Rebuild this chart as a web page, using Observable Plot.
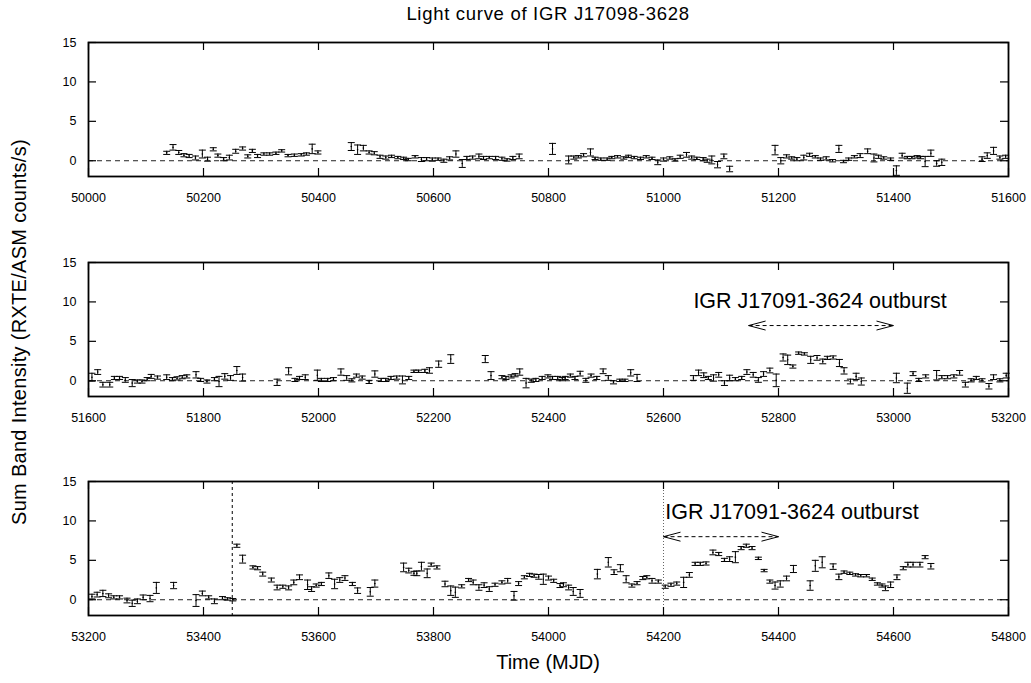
<!DOCTYPE html>
<html>
<head>
<meta charset="utf-8">
<script src="https://cdn.jsdelivr.net/npm/d3@7"></script>
<script src="https://cdn.jsdelivr.net/npm/@observablehq/plot@0.6"></script>
<style>
  html, body { margin: 0; padding: 0; background: #fff; }
  #chart { position: relative; width: 1031px; height: 683px; font-family: "Liberation Sans", Arial, sans-serif; color: #000; }
  .panel { position: absolute; left: 0; }
  .title { position: absolute; left: 88px; width: 920px; top: 3px; text-align: center; font-size: 18.5px; letter-spacing: 0.7px; }
  .xlabel { position: absolute; left: 88px; width: 920px; top: 651px; text-align: center; font-size: 20px; }
  .ylabel { position: absolute; left: 19px; top: 332px; transform: translate(-50%, -50%) rotate(-90deg); white-space: nowrap; font-size: 20px; letter-spacing: 0.3px; }
</style>
</head>
<body>
<div id="chart">
  <div class="title">Light curve of IGR J17098-3628</div>
  <div class="ylabel">Sum Band Intensity (RXTE/ASM counts/s)</div>
  <div class="xlabel">Time (MJD)</div>
</div>
<script>
// ---------- data ----------
// Panel 1: MJD 50000 - 51600
const p1Time = [50136,50147,50157,50166,50175,50186,50198,50207,50217,50225,50235,50245,50256,50268,50277,50285,50294,50305,50315,50326,50336,50347,50358,50370,50379,50389,50399,
  50457,50468,50478,50488,50497,50507,50517,50527,50538,50548,50556,50568,50579,50588,50598,50608,50618,50628,50639,50650,50658,50668,50679,50687,50697,50708,50719,50728,50738,50749,
  50807,50835,50844,50852,50861,50873,50881,50891,50902,50910,50920,50931,50939,50949,50960,50970,50980,50990,51000,51011,51020,51029,51040,51049,51058,51069,51076,51084,51094,51105,51115,
  51194,51204,51214,51223,51232,51244,51254,51264,51273,51283,51294,51305,51313,51322,51332,51342,51355,51366,51374,51383,51395,51405,51415,51424,51432,51441,51447,51455,51465,51475,51484,
  51554,51563,51574,51585,51595];
const p1Rate = [1.0,1.7,1.05,0.7,0.6,0.35,0.85,0.2,1.45,0.65,0.2,0.4,1.2,1.55,0.55,1.25,0.6,0.85,0.85,0.95,1.25,0.65,0.7,0.75,0.85,1.5,1.05,
  1.8,1.4,1.6,1.05,0.95,0.5,0.4,0.55,0.4,0.3,0.15,0.5,0.15,0.2,0.15,0.2,0.0,0.3,0.85,-0.35,0.35,0.4,0.55,0.35,0.4,0.35,0.25,0.1,0.35,0.55,
  1.5,0.1,0.4,0.5,0.7,1.05,0.3,0.2,0.2,0.4,0.5,0.35,0.55,0.4,0.3,0.5,0.3,-0.2,0.15,0.35,0.1,0.5,0.75,0.4,0.3,0.2,0.0,0.1,-0.5,0.55,-1.05,
  1.35,0.0,0.55,0.35,0.2,0.4,0.75,0.5,0.2,0.3,0.0,1.5,-0.1,0.2,0.5,0.65,1.2,0.35,0.5,0.35,0.2,-1.25,0.65,0.4,0.4,0.5,0.4,-0.1,0.95,-0.35,-0.2,
  0.2,0.65,1.25,0.4,0.5];
const p1Err = [0.2,0.35,0.25,0.2,0.2,0.25,0.5,0.25,0.2,0.2,0.2,0.3,0.25,0.2,0.2,0.2,0.2,0.15,0.15,0.15,0.15,0.15,0.15,0.15,0.15,0.6,0.2,
  0.5,0.6,0.35,0.2,0.2,0.2,0.2,0.15,0.15,0.15,0.15,0.15,0.25,0.2,0.2,0.15,0.2,0.2,0.4,0.5,0.2,0.2,0.3,0.2,0.15,0.2,0.2,0.15,0.2,0.3,
  0.7,0.5,0.2,0.15,0.2,0.45,0.15,0.15,0.15,0.15,0.15,0.15,0.15,0.15,0.15,0.15,0.15,0.3,0.2,0.15,0.15,0.2,0.3,0.2,0.15,0.2,0.2,0.5,0.4,0.3,0.35,
  0.6,0.4,0.2,0.15,0.2,0.3,0.2,0.15,0.15,0.2,0.15,0.45,0.15,0.15,0.15,0.25,0.3,0.5,0.2,0.15,0.15,0.6,0.3,0.15,0.15,0.15,0.15,0.65,0.4,0.35,0.4,
  0.3,0.35,0.45,0.2,0.2];

// Panel 2: MJD 51600 - 53200
const p2Time = [51606,51616,51625,51637,51645,51654,51664,51676,51685,51693,51702,51709,51720,51736,51746,51754,51763,51771,51787,51795,51806,51819,51827,51837,51847,51858,51868,
  51928,51948,51959,51967,51977,51998,52005,52016,52026,52039,52049,52058,52066,52076,52088,52098,52109,52117,52126,52136,52146,52157,52166,52174,52185,52193,52209,52230,
  52290,52300,52319,52326,52335,52342,52350,52361,52370,52378,52389,52399,52407,52416,52424,
  52429,52438,52446,52455,52465,52474,52484,52495,52504,52513,52524,52533,52543,52554,
  52652,52661,52670,52678,52687,52696,52706,52715,52725,52736,52745,52756,52765,52774,52785,52796,52808,52816,52825,52835,52845,52856,52867,52877,52885,52895,52906,52914,52925,52935,52944,
  53005,53024,53034,53044,53056,53075,53084,53094,53105,53115,53125,53135,53144,53154,53166,53174,53185,53196];
const p2Rate = [0.45,1.1,-0.5,-0.5,0.35,0.35,0.1,-0.3,-0.1,-0.1,0.2,0.55,0.4,0.45,0.2,0.3,0.45,0.55,0.75,0.1,-0.1,0.2,-0.1,0.55,0.35,1.3,0.4,
  -0.2,1.2,0.1,0.35,0.45,0.7,0.1,0.1,0.2,1.1,0.35,0.05,0.65,0.4,-0.15,0.85,0.1,0.1,0.35,0.4,0.1,0.35,1.2,1.2,1.25,1.3,2.1,2.75,
  2.75,0.65,0.45,0.35,0.55,0.7,1.1,-0.3,0.0,0.1,0.35,0.55,0.35,0.35,0.2,
  0.35,0.65,0.35,0.9,0.05,0.65,0.35,1.2,0.35,-0.2,0.05,0.05,1.0,0.35,
  0.35,1.0,0.7,0.35,0.35,0.75,-0.3,0.35,0.2,0.35,1.1,0.75,0.1,0.85,1.3,0.05,2.95,2.65,1.8,3.5,3.4,2.65,2.9,2.45,2.9,2.95,2.25,1.25,-0.1,0.55,-0.1,
  0.35,-0.95,0.9,0.1,0.55,0.7,0.45,0.45,0.55,1.0,-0.5,0.05,0.35,0.05,-0.7,0.45,0.05,0.65];
const p2Err = [0.5,0.3,0.3,0.3,0.2,0.2,0.3,0.45,0.2,0.2,0.2,0.25,0.2,0.3,0.2,0.2,0.2,0.2,0.4,0.2,0.2,0.2,0.65,0.35,0.3,0.5,0.45,
  0.4,0.45,0.2,0.2,0.3,0.65,0.2,0.2,0.2,0.4,0.3,0.2,0.2,0.2,0.2,0.4,0.2,0.2,0.2,0.2,0.5,0.2,0.15,0.15,0.2,0.35,0.4,0.55,
  0.45,0.5,0.2,0.2,0.2,0.2,0.4,0.6,0.2,0.2,0.2,0.2,0.2,0.2,0.2,
  0.2,0.2,0.2,0.3,0.25,0.2,0.2,0.3,0.3,0.2,0.15,0.15,0.4,0.45,
  0.3,0.35,0.3,0.2,0.4,0.3,0.3,0.35,0.2,0.2,0.3,0.3,0.3,0.3,0.3,0.8,0.45,0.6,0.2,0.15,0.15,0.45,0.3,0.3,0.2,0.2,0.45,0.4,0.3,0.4,0.45,
  0.6,0.65,0.25,0.2,0.2,0.6,0.2,0.2,0.2,0.3,0.3,0.2,0.2,0.2,0.35,0.3,0.2,0.3];

// Panel 3: MJD 53200 - 54800
const p3Time = [53206,53215,53225,53235,53244,53254,53267,53276,53285,53295,53307,53318,53348,53387,53398,53409,53419,53433,53442,53451,
  53458,53468,53486,53494,53503,53518,53528,53538,53548,53557,53567,53581,53588,53596,53605,53618,53628,53637,53646,53659,53668,53690,53698,
  53748,53757,53766,53771,53779,53789,53796,53806,53820,53830,53838,53849,53861,53869,53879,53888,53897,53907,53919,53929,53940,53948,53958,53967,53975,53983,53991,54000,54009,54020,
  54026,54035,54043,54055,
  54085,54104,54114,54125,54135,54145,54154,54164,54171,54180,54191,54203,54213,54223,54235,54245,54255,54264,54274,54286,54296,54306,54315,54325,54335,54344,54354,54365,54375,54385,54394,54403,54414,54426,
  54455,54464,54476,54495,54505,54514,54524,54534,54543,54553,54563,54572,54580,54586,54595,54606,54617,54625,54634,54646,54655,54665];
const p3Rate = [0.4,0.65,0.8,0.5,0.3,0.3,-0.1,-0.45,-0.2,0.3,0.15,1.5,1.8,-0.1,0.8,0.3,-0.2,0.2,0.1,0.0,
  6.85,5.15,4.1,4.0,3.25,2.5,1.55,1.65,1.5,2.2,2.85,1.9,1.35,1.8,2.0,3.05,2.0,2.5,2.75,2.0,1.15,1.0,2.05,
  4.1,3.7,3.35,3.35,4.2,3.35,4.45,4.1,2.0,1.15,0.95,1.7,2.5,2.2,1.55,1.85,1.35,1.9,2.2,2.4,0.5,2.05,2.85,3.15,3.05,2.9,2.6,2.75,2.4,1.8,
  1.9,1.55,1.05,0.8,
  3.25,4.75,3.5,4.0,2.6,1.8,2.1,2.75,2.85,2.4,2.3,1.65,1.9,2.05,2.2,3.15,4.55,4.55,4.6,6.0,5.8,5.05,5.15,5.4,6.55,6.85,6.55,5.25,3.7,2.3,1.8,2.0,2.7,3.9,
  1.8,4.3,4.75,4.2,2.9,3.5,3.35,3.15,3.05,3.05,2.6,2.0,1.8,1.45,1.9,2.85,4.0,4.45,4.45,4.45,5.4,4.25];
const p3Err = [0.3,0.3,0.4,0.25,0.2,0.2,0.3,0.4,0.3,0.3,0.4,0.7,0.4,0.75,0.3,0.2,0.3,0.2,0.15,0.15,
  0.2,0.5,0.2,0.2,0.25,0.25,0.3,0.2,0.25,0.3,0.3,0.6,0.3,0.2,0.2,0.35,0.6,0.3,0.3,0.2,0.35,0.55,0.45,
  0.55,0.3,0.25,0.3,0.55,0.55,0.2,0.2,0.35,0.6,0.65,0.2,0.2,0.3,0.35,0.3,0.3,0.2,0.2,0.3,0.55,0.25,0.2,0.2,0.2,0.3,0.65,0.25,0.2,0.25,
  0.25,0.3,0.5,0.5,
  0.6,0.6,0.3,0.45,0.45,0.2,0.2,0.2,0.2,0.3,0.2,0.2,0.2,0.2,0.65,0.3,0.2,0.2,0.2,0.3,0.2,0.2,0.3,0.7,0.2,0.2,0.2,0.15,0.15,0.2,0.45,0.4,0.3,0.45,
  0.6,0.7,0.7,0.35,0.35,0.15,0.15,0.15,0.15,0.15,0.15,0.15,0.2,0.3,0.35,0.3,0.2,0.3,0.3,0.3,0.2,0.35];

// Axis ticks
const p1Ticks = [50000,50200,50400,50600,50800,51000,51200,51400,51600];
const p2Ticks = [51600,51800,52000,52200,52400,52600,52800,53000,53200];
const p3Ticks = [53200,53400,53600,53800,54000,54200,54400,54600,54800];
const yTicks = [0,5,10,15];
const yDomain = [-2,15];

// Annotations
const outburstLabel = "IGR J17091-3624 outburst";
const p2Note = [{x: 52652, y: 10.1}];
const p2Arrow = [{x1: 52748, x2: 53000, y: 7.0}];
const p3Note = [{x: 54203, y: 11.1}];
const p3Arrow = [{x1: 54200, x2: 54400, y: 8.0}];
const p3StartMarker = [53450];
const p3OutburstMarker = [54200];

// ---------- drawing ----------
const capSymbol = {draw(ctx, size) { const r = Math.sqrt(size / Math.PI); ctx.moveTo(-r, 0); ctx.lineTo(r, 0); }};
const headLeft = {draw(ctx) { ctx.moveTo(17, -4.5); ctx.lineTo(0, 0); ctx.lineTo(17, 4.5); }};
const headRight = {draw(ctx) { ctx.moveTo(-17, -4.5); ctx.lineTo(0, 0); ctx.lineTo(-17, 4.5); }};

const W = 1031, ML = 88, MR = 23, MT = 10, MB = 38, IH = 134;
const IW = W - ML - MR;

function makePanel(times, rates, errs, ticks, extra) {
  const data = times.map((t, i) => ({t, v: rates[i], e: errs[i]}));
  return Plot.plot({
    width: W, height: MT + IH + MB,
    marginLeft: ML, marginRight: MR, marginTop: MT, marginBottom: MB,
    style: {fontFamily: '"Liberation Sans", Arial, sans-serif', fontSize: "12.5px", background: "transparent", color: "#000", overflow: "visible"},
    x: {domain: [ticks[0], ticks[ticks.length - 1]]},
    y: {domain: yDomain},
    marks: [
      Plot.ruleY([0], {stroke: "#222", strokeWidth: 1, strokeDasharray: "5,4"}),
      ...extra,
      Plot.ruleX(data, {x: "t", y1: d => d.v - d.e, y2: d => d.v + d.e, stroke: "#000", strokeWidth: 1}),
      Plot.dot(data, {x: "t", y: d => d.v - d.e, symbol: capSymbol, r: 3.5, stroke: "#000", strokeWidth: 1, fill: "none"}),
      Plot.dot(data, {x: "t", y: d => d.v + d.e, symbol: capSymbol, r: 3.5, stroke: "#000", strokeWidth: 1, fill: "none"}),
      Plot.dot(data, {x: "t", y: "v", r: 0.8, fill: "#000", stroke: null}),
      // inward ticks (top / bottom / left / right)
      Plot.ruleX(ticks, {stroke: "#000", strokeWidth: 1.2, insetTop: IH - 8}),
      Plot.ruleX(ticks, {stroke: "#000", strokeWidth: 1.2, insetBottom: IH - 8}),
      Plot.ruleY(yTicks, {stroke: "#000", strokeWidth: 1.2, insetRight: IW - 8}),
      Plot.ruleY(yTicks, {stroke: "#000", strokeWidth: 1.2, insetLeft: IW - 8}),
      Plot.axisX({ticks, tickSize: 0, tickPadding: 17, tickFormat: "d", label: null, fontSize: 12.5}),
      Plot.axisY({ticks: yTicks, tickSize: 0, tickPadding: 12, tickFormat: "d", label: null, fontSize: 12.5}),
      Plot.frame({stroke: "#000", strokeWidth: 1.8})
    ]
  });
}

function noteMarks(note, arrow) {
  return [
    Plot.text(note, {x: "x", y: "y", text: () => outburstLabel, textAnchor: "start", fontSize: 21.5, fill: "#000"}),
    Plot.link(arrow, {x1: "x1", x2: "x2", y1: "y", y2: "y", stroke: "#000", strokeWidth: 1, strokeDasharray: "4,3"}),
    Plot.dot(arrow, {x: "x1", y: "y", symbol: headLeft, stroke: "#000", strokeWidth: 1, fill: "none"}),
    Plot.dot(arrow, {x: "x2", y: "y", symbol: headRight, stroke: "#000", strokeWidth: 1, fill: "none"})
  ];
}

const chart = document.getElementById("chart");
const panelTops = [42, 262, 481];
const panels = [
  makePanel(p1Time, p1Rate, p1Err, p1Ticks, []),
  makePanel(p2Time, p2Rate, p2Err, p2Ticks, noteMarks(p2Note, p2Arrow)),
  makePanel(p3Time, p3Rate, p3Err, p3Ticks, [
    Plot.ruleX(p3StartMarker, {stroke: "#000", strokeWidth: 1, strokeDasharray: "3,3"}),
    Plot.ruleX(p3OutburstMarker, {stroke: "#666", strokeWidth: 1, strokeDasharray: "1,2"}),
    ...noteMarks(p3Note, p3Arrow)
  ])
];
panels.forEach((svg, i) => {
  const wrap = document.createElement("div");
  wrap.className = "panel";
  wrap.style.top = (panelTops[i] - MT) + "px";
  wrap.appendChild(svg);
  chart.appendChild(wrap);
});
</script>
</body>
</html>
